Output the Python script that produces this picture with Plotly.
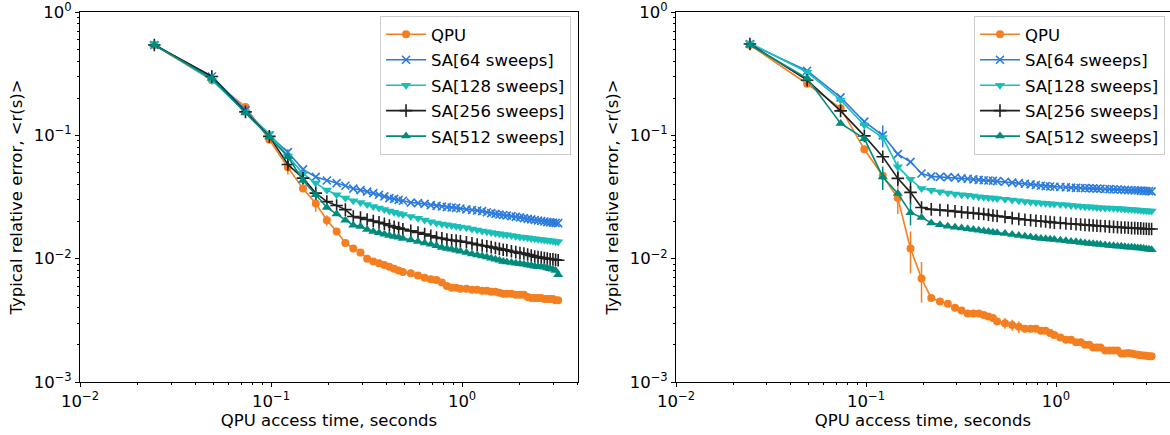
import plotly.graph_objects as go

# QPU access time (seconds) at which each curve is sampled
access_time = [
    0.0245, 0.049, 0.0735, 0.098, 0.1225, 0.147, 0.1715, 0.196, 0.2205, 0.245,
    0.2695, 0.294, 0.3185, 0.343, 0.3675, 0.392, 0.4165, 0.441, 0.4655, 0.49,
    0.539, 0.588, 0.637, 0.686, 0.735, 0.784, 0.833, 0.882, 0.931, 0.98,
    1.054, 1.127, 1.2, 1.274, 1.348, 1.421, 1.495, 1.568, 1.642, 1.715,
    1.813, 1.911, 2.009, 2.107, 2.205, 2.303, 2.401, 2.499, 2.597, 2.695,
    2.793, 2.891, 2.989, 3.087, 3.185,
]

series_names = ["QPU", "SA[64 sweeps]", "SA[128 sweeps]", "SA[256 sweeps]", "SA[512 sweeps]"]

# Decade tick positions and their labels
decade_vals = [0.001, 0.01, 0.1, 1]
decade_text = ["10<sup>\u22123</sup>", "10<sup>\u22122</sup>", "10<sup>\u22121</sup>", "10<sup>0</sup>"]

# ---- left panel: typical relative error ----
left_qpu = [
    0.54, 0.28, 0.17, 0.092, 0.055, 0.037, 0.028, 0.0205, 0.0166, 0.0134,
    0.0121, 0.0112, 0.0100, 0.0095, 0.0092, 0.0089, 0.0086, 0.0083, 0.0080, 0.0078,
    0.0076, 0.0073, 0.0070, 0.0068, 0.0067, 0.0064, 0.0060, 0.0058, 0.0058, 0.0057,
    0.0057, 0.0056, 0.0056, 0.0055, 0.0055, 0.0054, 0.0054, 0.0053, 0.0052, 0.0052,
    0.0052, 0.0051, 0.0051, 0.0051, 0.0049, 0.0048, 0.0048, 0.0048, 0.0048, 0.0047,
    0.0047, 0.0047, 0.0047, 0.0046, 0.0046,
]
left_sa64 = [
    0.54, 0.30, 0.16, 0.10, 0.073, 0.053, 0.046, 0.043, 0.041, 0.039,
    0.037, 0.036, 0.035, 0.034, 0.033, 0.032, 0.031, 0.0305, 0.030, 0.0295,
    0.0285, 0.0282, 0.0278, 0.0272, 0.0268, 0.0265, 0.0262, 0.026, 0.0258, 0.0255,
    0.0251, 0.0248, 0.0246, 0.0243, 0.0238, 0.0234, 0.0231, 0.0228, 0.0226, 0.0224,
    0.0221, 0.0218, 0.0216, 0.0213, 0.021, 0.0208, 0.0206, 0.0204, 0.0202, 0.0200,
    0.0198, 0.0197, 0.0196, 0.0195, 0.0194,
]
left_sa128 = [
    0.55, 0.28, 0.155, 0.103, 0.068, 0.049, 0.041, 0.036, 0.033, 0.031,
    0.0295, 0.0285, 0.0275, 0.0265, 0.0258, 0.025, 0.0243, 0.0238, 0.0232, 0.0228,
    0.022, 0.0213, 0.0206, 0.0199, 0.0195, 0.0191, 0.0188, 0.0186, 0.0183, 0.0181,
    0.0178, 0.0174, 0.0171, 0.0168, 0.0165, 0.0163, 0.0161, 0.0159, 0.0157, 0.0156,
    0.0154, 0.0152, 0.015, 0.0149, 0.0148, 0.0146, 0.0145, 0.0144, 0.0143, 0.0142,
    0.0141, 0.014, 0.0139, 0.0138, 0.0137,
]
left_sa256 = [
    0.54, 0.30, 0.155, 0.098, 0.058, 0.045, 0.034, 0.029, 0.027, 0.025,
    0.022, 0.0215, 0.0208, 0.0202, 0.0197, 0.0192, 0.0186, 0.0181, 0.0177, 0.0173,
    0.0168, 0.0163, 0.0158, 0.0153, 0.0148, 0.0146, 0.0143, 0.0141, 0.014, 0.0138,
    0.0136, 0.0133, 0.013, 0.0128, 0.0126, 0.0124, 0.0122, 0.012, 0.0118, 0.0117,
    0.0115, 0.0113, 0.0111, 0.011, 0.0108, 0.0106, 0.0104, 0.0103, 0.0102, 0.0101,
    0.0100, 0.0099, 0.0099, 0.0098, 0.0097,
]
left_sa512 = [
    0.54, 0.29, 0.152, 0.097, 0.067, 0.043, 0.033, 0.026, 0.023, 0.0205,
    0.0187, 0.0182, 0.0172, 0.0166, 0.0162, 0.0158, 0.0154, 0.0151, 0.0149, 0.0146,
    0.0142, 0.0138, 0.0134, 0.0131, 0.0127, 0.0123, 0.0121, 0.0119, 0.0117, 0.0115,
    0.0112, 0.0109, 0.0107, 0.0105, 0.0103, 0.0101, 0.0099, 0.0097, 0.0095, 0.0094,
    0.0093, 0.0092, 0.0091, 0.009, 0.0089, 0.0088, 0.0087, 0.0086, 0.0086, 0.0085,
    0.0084, 0.0083, 0.0082, 0.0080, 0.0074,
]

# ---- right panel: typical relative error ----
right_qpu = [
    0.54, 0.262, 0.166, 0.077, 0.047, 0.031, 0.0121, 0.0069, 0.0048, 0.0045,
    0.0043, 0.0040, 0.0038, 0.0036, 0.0036, 0.0036, 0.0035, 0.0034, 0.0033, 0.0031,
    0.0030, 0.0029, 0.0028, 0.0027, 0.0027, 0.0027, 0.0026, 0.0026, 0.0025, 0.0024,
    0.0023, 0.0022, 0.0022, 0.0021, 0.0021, 0.0020, 0.0020, 0.0019, 0.0019, 0.0019,
    0.0018, 0.0018, 0.0018, 0.0018, 0.0017, 0.0017, 0.00172, 0.0017, 0.00168, 0.00166,
    0.00165, 0.00164, 0.00163, 0.00162, 0.00162,
]
right_sa64 = [
    0.55, 0.334, 0.203, 0.129, 0.100, 0.0705, 0.061, 0.049, 0.0465, 0.046,
    0.0458, 0.0455, 0.0448, 0.0445, 0.044, 0.0435, 0.0432, 0.043, 0.0428, 0.0425,
    0.042, 0.0414, 0.041, 0.0405, 0.040, 0.0396, 0.039, 0.0387, 0.0385, 0.0383,
    0.0381, 0.0379, 0.0377, 0.0375, 0.0374, 0.0373, 0.0372, 0.0371, 0.037, 0.0369,
    0.0367, 0.0366, 0.0365, 0.0364, 0.0362, 0.0361, 0.036, 0.0359, 0.0358, 0.0357,
    0.0356, 0.0355, 0.0354, 0.0353, 0.0351,
]
right_sa128 = [
    0.56, 0.325, 0.193, 0.121, 0.096, 0.0557, 0.044, 0.037, 0.0358, 0.0348,
    0.034, 0.0335, 0.033, 0.0326, 0.0322, 0.0318, 0.0315, 0.0312, 0.031, 0.0307,
    0.0303, 0.0299, 0.0295, 0.0291, 0.0288, 0.0285, 0.0283, 0.0281, 0.0279, 0.0277,
    0.0275, 0.0273, 0.027, 0.0268, 0.0266, 0.0264, 0.0263, 0.0262, 0.026, 0.0259,
    0.0258, 0.0257, 0.0256, 0.0255, 0.0254, 0.0253, 0.0251, 0.025, 0.0249, 0.0248,
    0.0247, 0.0246, 0.0245, 0.0244, 0.0243,
]
right_sa256 = [
    0.55, 0.28, 0.158, 0.099, 0.067, 0.0448, 0.0345, 0.026, 0.0251, 0.0248,
    0.0246, 0.0242, 0.0238, 0.0236, 0.0234, 0.0232, 0.023, 0.0227, 0.0224, 0.0222,
    0.0218, 0.0213, 0.021, 0.0207, 0.0205, 0.0203, 0.0201, 0.020, 0.0198, 0.0196,
    0.0195, 0.0193, 0.0192, 0.019, 0.0189, 0.0188, 0.0187, 0.0186, 0.0185, 0.0184,
    0.0183, 0.0182, 0.0181, 0.018, 0.0179, 0.0179, 0.0178, 0.0177, 0.0177, 0.0176,
    0.0176, 0.0175, 0.0175, 0.0174, 0.0174,
]
right_sa512 = [
    0.54, 0.29, 0.125, 0.094, 0.046, 0.0338, 0.0236, 0.0216, 0.0195, 0.0188,
    0.0183, 0.018, 0.0177, 0.0175, 0.0172, 0.017, 0.0168, 0.0166, 0.0164, 0.0162,
    0.016, 0.0157, 0.0154, 0.0152, 0.015, 0.0148, 0.0146, 0.0145, 0.0144, 0.0143,
    0.0141, 0.014, 0.0138, 0.0137, 0.0135, 0.0134, 0.0133, 0.0132, 0.0131, 0.013,
    0.0129, 0.0128, 0.0127, 0.0126, 0.0126, 0.0125, 0.0124, 0.0124, 0.0123, 0.0122,
    0.0122, 0.0121, 0.012, 0.0119, 0.0118,
]

# Error-bar half widths, keyed by sample index (zero elsewhere)
left_errors = [
    {4: 0.007, 6: 0.004, 7: 0.002},
    {4: 0.004},
    {},
    {4: 0.004, 5: 0.003},
    {6: 0.003},
]
right_errors = [
    {5: 0.008, 6: 0.0045, 7: 0.0025, 20: 0.0003, 21: 0.0003, 22: 0.0003},
    {4: 0.02},
    {5: 0.006},
    {5: 0.006, 6: 0.007},
    {4: 0.01, 6: 0.005},
]

colors = ["#f47f20", "#2b7bde", "#19bfb8", "#202020", "#008b7d"]
symbols = ["circle", "x-thin", "triangle-down", "cross-thin", "triangle-up"]
sizes = [8, 8, 9, 9, 9]

FONT = "DejaVu Sans, Arial, sans-serif"
FS = 16.5

fig = go.Figure()


def add_panel(series, errors, xref, yref, legend_name):
    for i, (name, values) in enumerate(zip(series_names, series)):
        err = [errors[i].get(j, 0.0) for j in range(len(values))]
        thin = symbols[i].endswith("-thin")
        marker = dict(
            symbol=symbols[i],
            size=sizes[i],
            color=colors[i],
            line=dict(width=1.6 if thin else 0, color=colors[i]),
        )
        fig.add_trace(go.Scatter(
            x=access_time, y=values, name=name, mode="lines+markers",
            line=dict(color=colors[i], width=1.6),
            marker=marker,
            error_y=dict(type="data", array=err, visible=True,
                         thickness=1.5, width=0, color=colors[i]),
            xaxis=xref, yaxis=yref, legend=legend_name,
            legendgroup=f"{legend_name}-{i}",
        ))


add_panel([left_qpu, left_sa64, left_sa128, left_sa256, left_sa512],
          left_errors, "x", "y", "legend")
add_panel([right_qpu, right_sa64, right_sa128, right_sa256, right_sa512],
          right_errors, "x2", "y2", "legend2")

axis_common = dict(
    type="log", tickmode="array", tickvals=decade_vals, ticktext=decade_text,
    showgrid=False, zeroline=False,
    showline=True, linecolor="black", linewidth=1,
    ticks="outside", ticklen=4, tickwidth=1, tickcolor="black",
    ticklabeloverflow="allow",
    minor=dict(ticks="outside", ticklen=2, tickwidth=0.8, tickcolor="black",
               showgrid=False, dtick="D1"),
    tickfont=dict(family=FONT, size=FS, color="black"),
)

xtitle = dict(text="QPU access time, seconds",
              font=dict(family=FONT, size=FS, color="black"), standoff=2)
ytitle = dict(text="Typical relative error, &lt;r(s)&gt;",
              font=dict(family=FONT, size=FS, color="black"), standoff=6)

legend_common = dict(
    font=dict(family=FONT, size=FS, color="black"),
    bgcolor="rgba(255,255,255,0.8)", bordercolor="#cccccc", borderwidth=1,
    xanchor="right", yanchor="top", itemwidth=40, tracegroupgap=1,
)

y_range = [-3, 0]

fig.update_layout(
    width=1170, height=435,
    margin=dict(l=80, r=0, t=12, b=53, autoexpand=False),
    paper_bgcolor="white", plot_bgcolor="white",
    font=dict(family=FONT, size=FS, color="black"),
    xaxis=dict(axis_common, domain=[0, 0.4569], range=[-2, 0.607], mirror=True,
               anchor="y", title=xtitle),
    yaxis=dict(axis_common, domain=[0, 1], range=y_range, mirror=True,
               anchor="x", title=ytitle),
    xaxis2=dict(axis_common, domain=[0.5468, 1.0], range=[-2, 0.6], mirror=True,
                anchor="y2", title=xtitle),
    yaxis2=dict(axis_common, domain=[0, 1], range=y_range, mirror=False,
                anchor="x2", title=ytitle),
    legend=dict(legend_common, x=0.4505, y=0.989),
    legend2=dict(legend_common, x=0.9954, y=0.989),
    showlegend=True,
)

fig.write_html("out.html")
